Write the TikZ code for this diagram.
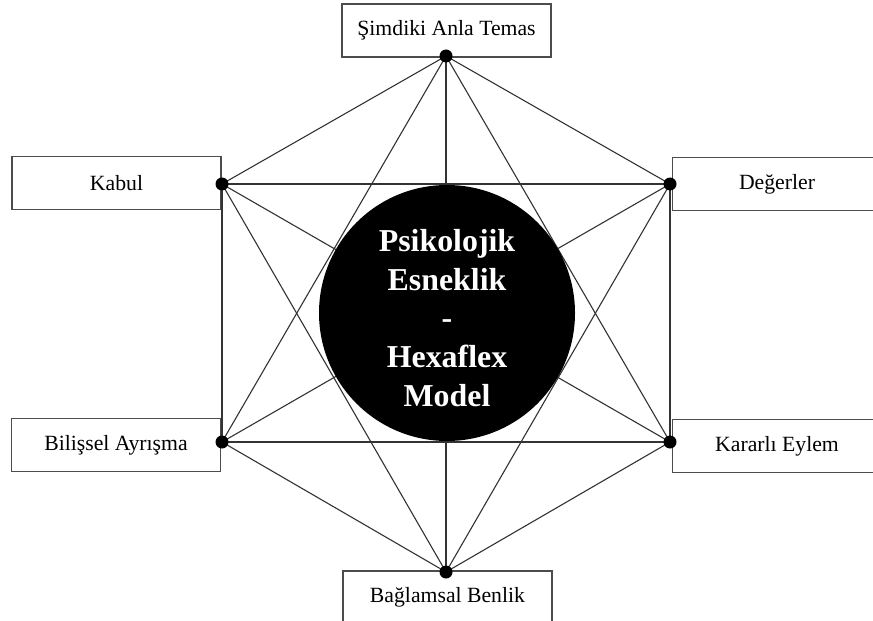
\documentclass[tikz,border=0pt]{standalone}
\usepackage{fontspec}
\setmainfont{Liberation Serif}
\begin{document}
\begin{tikzpicture}[x=1bp,y=-1bp,
  labelbox/.style={draw=black!70, line width=1.2bp, fill=white, minimum width=209bp, minimum height=53bp, inner sep=0pt, font=\fontsize{21.8}{26}\selectfont},
  dotnode/.style={circle, fill=black, minimum size=13bp, inner sep=0pt},
  link/.style={draw=black!80, line width=1.1bp},
  hub/.style={circle, fill=black, minimum size=256bp, inner sep=0pt},
  hubtext/.style={text=white, align=center, inner sep=0pt, font=\fontsize{32}{39}\selectfont\bfseries}]
\clip (0,0) rectangle (873,621);
\useasboundingbox (0,0) rectangle (873,621);
\fill[white] (0,0) rectangle (873,621);
% boxes
\node[labelbox] (tb) at (446.5,30.5) {Şimdiki Anla Temas};
\node[labelbox] (kb) at (116.5,183) {Kabul};
\node[labelbox] (db) at (777,184) {Değerler};
\node[labelbox] (bb) at (116,445) {Bilişsel Ayrışma};
\node[labelbox] (eb) at (777,446) {Kararlı Eylem};
\node[labelbox] (sb) at (447.5,597.5) {Bağlamsal Benlik};
% dot positions
\coordinate (T) at (446,56);
\coordinate (K) at (222,184);
\coordinate (D) at (670,184);
\coordinate (B) at (222,442);
\coordinate (E) at (670,442);
\coordinate (S) at (446,572);
% links (complete graph)
\foreach \a/\b in {T/K,T/D,T/B,T/E,T/S,K/D,K/B,K/E,K/S,D/B,D/E,D/S,B/E,B/S,E/S}
  \draw[link] (\a) -- (\b);
% hub
\node[hub] (hub) at (447,313) {};
\node[hubtext] (hubtxt) at (447,318) {Psikolojik\\Esneklik\\-\\Hexaflex\\Model};
% dots
\foreach \p in {T,K,D,B,E,S}
  \node[dotnode] (d\p) at (\p) {};
\end{tikzpicture}
\end{document}
